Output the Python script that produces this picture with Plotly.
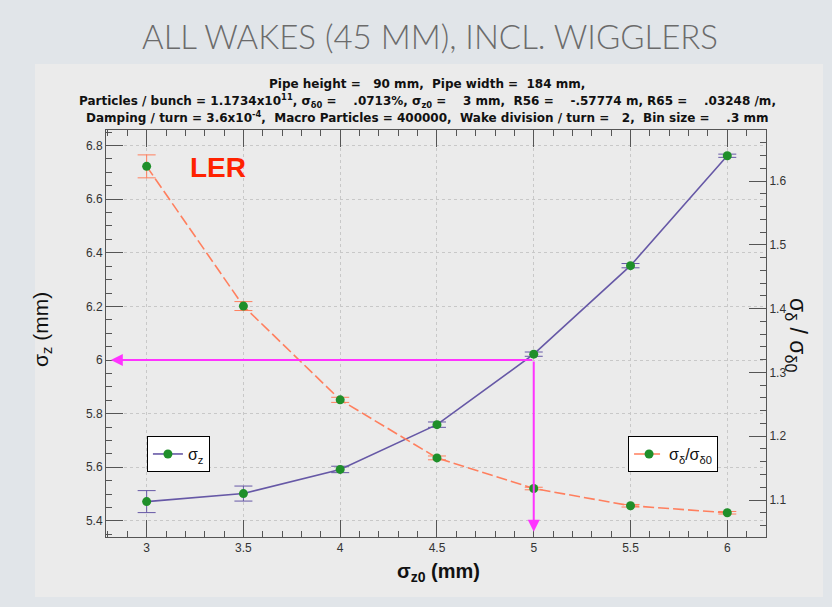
import plotly.graph_objects as go

sigma_z0 = [3, 3.5, 4, 4.5, 5, 5.5, 6]
sigma_z = [5.472, 5.502, 5.592, 5.759, 6.022, 6.352, 6.762]
sigma_z_err = [0.041, 0.028, 0.012, 0.010, 0.008, 0.008, 0.006]
ratio = [1.623, 1.404, 1.257, 1.166, 1.118, 1.091, 1.080]
ratio_err = [0.018, 0.007, 0.004, 0.003, 0.002, 0.002, 0.002]

title_text = "ALL WAKES (45 MM), INCL. WIGGLERS"
header_lines = [
    "Pipe height =   90 mm,  Pipe width =  184 mm,",
    "Particles / bunch = 1.1734x10<sup>11</sup>, σ<sub>δ0</sub> =    .0713%, σ<sub>z0</sub> =    3 mm,  R56 =    -.57774 m, R65 =    .03248 /m,",
    "Damping / turn = 3.6x10<sup>-4</sup>,  Macro Particles = 400000,  Wake division / turn =   2,  Bin size =    .3 mm",
]

PURPLE = "#6658a6"
SALMON = "#ff7f5e"
GREEN = "#1f8f2a"
MAGENTA = "#ff33ff"

fig = go.Figure()

fig.add_trace(go.Scatter(
    x=sigma_z0, y=sigma_z, mode="lines+markers", name="σ<sub>z</sub>",
    line=dict(color=PURPLE, width=1.6),
    marker=dict(color=GREEN, size=9),
    error_y=dict(type="data", array=sigma_z_err, color=PURPLE, thickness=1, width=9),
    legend="legend",
))
fig.add_trace(go.Scatter(
    x=sigma_z0, y=ratio, mode="lines+markers", name="σ<sub>δ</sub>/σ<sub>δ0</sub>",
    line=dict(color=SALMON, width=1.6, dash="11px,4px"),
    marker=dict(color=GREEN, size=9),
    error_y=dict(type="data", array=ratio_err, color=SALMON, thickness=1, width=9),
    yaxis="y2", legend="legend2",
))

tickfont = dict(family="Liberation Sans, Arial", size=12, color="#333")

fig.update_layout(
    width=832, height=607,
    margin=dict(l=106, r=66, t=130, b=70),
    paper_bgcolor="#e1e5e9",
    plot_bgcolor="white",
    showlegend=True,
    xaxis=dict(
        range=[2.79, 6.2], dtick=0.5, tick0=0, ticks="inside", ticklen=17, tickwidth=1,
        tickcolor="#555", showline=True, linecolor="#555", linewidth=1, mirror="ticks",
        showgrid=True, gridcolor="#c8c8c8", griddash="dot", gridwidth=1,
        minor=dict(ticks="inside", ticklen=6, dtick=0.1, tickcolor="#555", showgrid=False),
        tickfont=tickfont, zeroline=False,
    ),
    yaxis=dict(
        range=[5.34, 6.858], dtick=0.2, tick0=0, ticks="inside", ticklen=17, tickwidth=1,
        tickcolor="#555", showline=True, linecolor="#555", linewidth=1,
        showgrid=True, gridcolor="#c8c8c8", griddash="dot", gridwidth=1,
        minor=dict(ticks="inside", ticklen=6, dtick=0.05, tickcolor="#555", showgrid=False),
        tickfont=tickfont, zeroline=False, tickformat="~g",
    ),
    yaxis2=dict(
        overlaying="y", side="right",
        range=[1.042, 1.68], dtick=0.1, tick0=0, ticks="inside", ticklen=17, tickwidth=1,
        tickcolor="#555", showline=True, linecolor="#555", linewidth=1,
        showgrid=False,
        minor=dict(ticks="inside", ticklen=6, dtick=0.02, tickcolor="#555", showgrid=False),
        tickfont=tickfont, zeroline=False,
    ),
    legend=dict(
        x=0.062, y=0.248, xanchor="left", yanchor="top",
        bgcolor="white", bordercolor="black", borderwidth=1,
        font=dict(family="Liberation Sans, Arial", size=16, color="#111"),
        itemwidth=30,
    ),
    legend2=dict(
        x=0.791, y=0.248, xanchor="left", yanchor="top",
        bgcolor="white", bordercolor="black", borderwidth=1,
        font=dict(family="Liberation Sans, Arial", size=16, color="#111"),
        itemwidth=30,
    ),
)

# panel background
fig.add_shape(type="rect", xref="paper", yref="paper",
              x0=-0.1076, x1=1.0864, y0=-0.1474, y1=1.162,
              fillcolor="#ebebeb", line=dict(width=0), layer="below")

# slide title
fig.add_annotation(text=title_text, xref="paper", yref="paper",
                   x=(430 - 106) / 660, y=(537 - 36) / 407, xanchor="center", yanchor="middle",
                   showarrow=False,
                   font=dict(family="Lato, Open Sans", size=33, color="#6b6b6b", weight=300))

# header lines
for i, line in enumerate(header_lines):
    fig.add_annotation(text=line, xref="paper", yref="paper",
                       x=(427 - 106) / 660, y=(537 - (84 + 16.5 * i)) / 407,
                       xanchor="center", yanchor="middle", showarrow=False,
                       font=dict(family="DejaVu Sans, Liberation Sans", size=12, color="#111",
                                 weight="bold"))

# LER label
fig.add_annotation(text="<b>LER</b>", xref="paper", yref="paper",
                   x=0.17, y=0.909, xanchor="center", yanchor="middle", showarrow=False,
                   font=dict(family="Liberation Sans, Arial", size=28, color="#ff2200"))

# axis titles
fig.add_annotation(text="σ<sub>z</sub> (mm)", xref="paper", yref="paper",
                   x=(42 - 106) / 660, y=(537 - 330) / 407, textangle=-90,
                   xanchor="center", yanchor="middle", showarrow=False,
                   font=dict(family="Liberation Sans, Arial", size=21, color="#111"))
fig.add_annotation(text="σ<sub>δ</sub> / σ<sub>δ0</sub>", xref="paper", yref="paper",
                   x=(797 - 106) / 660, y=(537 - 335) / 407, textangle=90,
                   xanchor="center", yanchor="middle", showarrow=False,
                   font=dict(family="Liberation Sans, Arial", size=23, color="#111"))
fig.add_annotation(text="<b>σ<sub>z0</sub> (mm)</b>", xref="paper", yref="paper",
                   x=(438 - 106) / 660, y=(537 - 572) / 407,
                   xanchor="center", yanchor="middle", showarrow=False,
                   font=dict(family="Liberation Sans, Arial", size=20, color="#111"))

# magenta arrows from the sigma_z = 6 mm reading at sigma_z0 = 5
fig.add_annotation(x=2.815, y=6.0, ax=5, ay=6.0, xref="x", yref="y", axref="x", ayref="y",
                   text="", showarrow=True, arrowhead=2, arrowsize=1.2, arrowwidth=2,
                   arrowcolor=MAGENTA)
fig.add_annotation(x=5, y=5.36, ax=5, ay=6.0, xref="x", yref="y", axref="x", ayref="y",
                   text="", showarrow=True, arrowhead=2, arrowsize=1.2, arrowwidth=2,
                   arrowcolor=MAGENTA)

fig.write_html("out.html")
